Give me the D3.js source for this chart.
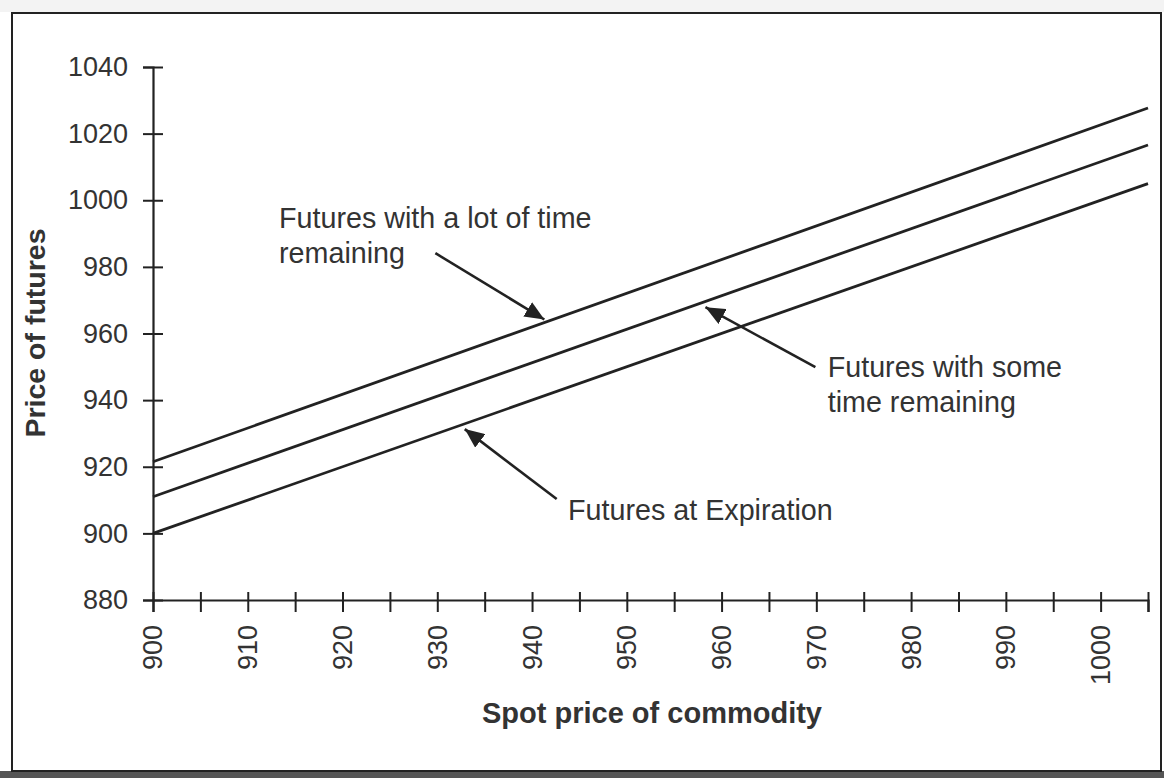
<!DOCTYPE html>
<html>
<head>
<meta charset="utf-8">
<script src="https://cdn.jsdelivr.net/npm/d3@7"></script>
<style>
  html, body { margin: 0; padding: 0; background: #fff; }
  svg { display: block; font-family: Arial, "Liberation Sans", sans-serif; }
</style>
</head>
<body>
<svg id="chart" width="1164" height="778"></svg>
<script>
// spot price of commodity (x), and futures price for three horizons (y)
const spot = [900, 1005];
const expiration = [900, 1005];
const someTime = [911, 1016.6];
const lotOfTime = [921.5, 1027.7];

const xTicks = d3.range(900, 1006, 5);
const xLabels = d3.range(900, 1001, 10);
const yTicks = d3.range(880, 1041, 20);

// annotation text (data units) and arrows from -> tip
const notes = [
  { lines: ["Futures with a lot of time", "remaining"], x: 913.3, y: 991.6 },
  { lines: ["Futures with some", "time remaining"], x: 971.2, y: 946.9 },
  { lines: ["Futures at Expiration"], x: 943.8, y: 904 }
];
const arrows = [
  { from: [929.8, 984.1], to: [941.3, 964.2] },
  { from: [969.9, 949.9], to: [958.3, 967.9] },
  { from: [942.6, 910.3], to: [932.9, 931.3] }
];

const svg = d3.select("#chart");
const W = 1164, H = 778;

// scanned page frame
svg.append("rect").attr("x", 0).attr("y", 0).attr("width", W).attr("height", 12).attr("fill", "#f3f3f3");
svg.append("rect").attr("x", 0).attr("y", 771).attr("width", W).attr("height", 7).attr("fill", "#555");
svg.append("rect")
  .attr("x", 12).attr("y", 13).attr("width", 1149).attr("height", 758)
  .attr("fill", "#fff").attr("stroke", "#222").attr("stroke-width", 2);

const x = d3.scaleLinear().domain([900, 1005]).range([153, 1148]);
const y = d3.scaleLinear().domain([880, 1040]).range([600, 67]);

const ink = "#222";
const textInk = "#333";

// y axis
const yAxis = svg.append("g").attr("transform", `translate(${x(900)},0)`)
  .call(d3.axisLeft(y).tickValues(yTicks).tickSize(10).tickPadding(15).tickFormat(d3.format("d")));
yAxis.select(".domain").attr("stroke", ink).attr("stroke-width", 2.2);
yAxis.selectAll(".tick line").attr("stroke", ink).attr("stroke-width", 2).attr("x2", -10).attr("x1", 10);
yAxis.selectAll(".tick text").attr("fill", textInk).attr("font-size", 27).attr("font-family", "Arial, 'Liberation Sans', sans-serif");

// x axis
const xAxis = svg.append("g").attr("transform", `translate(0,${y(880)})`)
  .call(d3.axisBottom(x).tickValues(xTicks).tickSize(12).tickFormat(""));
xAxis.select(".domain").attr("stroke", ink).attr("stroke-width", 2.2);
xAxis.selectAll(".tick line").attr("stroke", ink).attr("stroke-width", 2).attr("y1", -8).attr("y2", 12);

svg.append("g").selectAll("text").data(xLabels).join("text")
  .attr("transform", d => `translate(${x(d)},625) rotate(-90)`)
  .attr("text-anchor", "end")
  .attr("dy", "0.35em")
  .attr("font-size", 27)
  .attr("fill", textInk)
  .text(d => d);

// axis titles
svg.append("text")
  .attr("x", 652).attr("y", 723)
  .attr("text-anchor", "middle")
  .attr("font-size", 29).attr("font-weight", "bold").attr("fill", textInk)
  .text("Spot price of commodity");
svg.append("text")
  .attr("transform", "translate(45,333) rotate(-90)")
  .attr("text-anchor", "middle")
  .attr("font-size", 28.5).attr("font-weight", "bold").attr("fill", textInk)
  .text("Price of futures");

// the three futures lines
const series = [expiration, someTime, lotOfTime];
const line = d3.line().x(d => x(d[0])).y(d => y(d[1]));
svg.append("g").selectAll("path").data(series).join("path")
  .attr("d", s => line(spot.map((v, i) => [v, s[i]])))
  .attr("fill", "none").attr("stroke", ink).attr("stroke-width", 2.8);

// arrows
svg.append("defs").append("marker")
  .attr("id", "head").attr("viewBox", "0 0 10 10")
  .attr("refX", 10).attr("refY", 5)
  .attr("markerWidth", 7.5).attr("markerHeight", 6.5)
  .attr("markerUnits", "strokeWidth").attr("orient", "auto")
  .attr("preserveAspectRatio", "none")
  .append("path").attr("d", "M0,0 L10,5 L0,10 Z").attr("fill", ink);

svg.append("g").selectAll("line").data(arrows).join("line")
  .attr("x1", d => x(d.from[0])).attr("y1", d => y(d.from[1]))
  .attr("x2", d => x(d.to[0])).attr("y2", d => y(d.to[1]))
  .attr("stroke", ink).attr("stroke-width", 2.6)
  .attr("marker-end", "url(#head)");

// annotation labels
const note = svg.append("g").selectAll("text").data(notes).join("text")
  .attr("font-size", 28.7).attr("fill", textInk);
note.selectAll("tspan").data(d => d.lines.map((t, i) => ({ t, i, d }))).join("tspan")
  .attr("x", e => x(e.d.x))
  .attr("y", e => y(e.d.y) + e.i * 35)
  .text(e => e.t);
</script>
</body>
</html>
